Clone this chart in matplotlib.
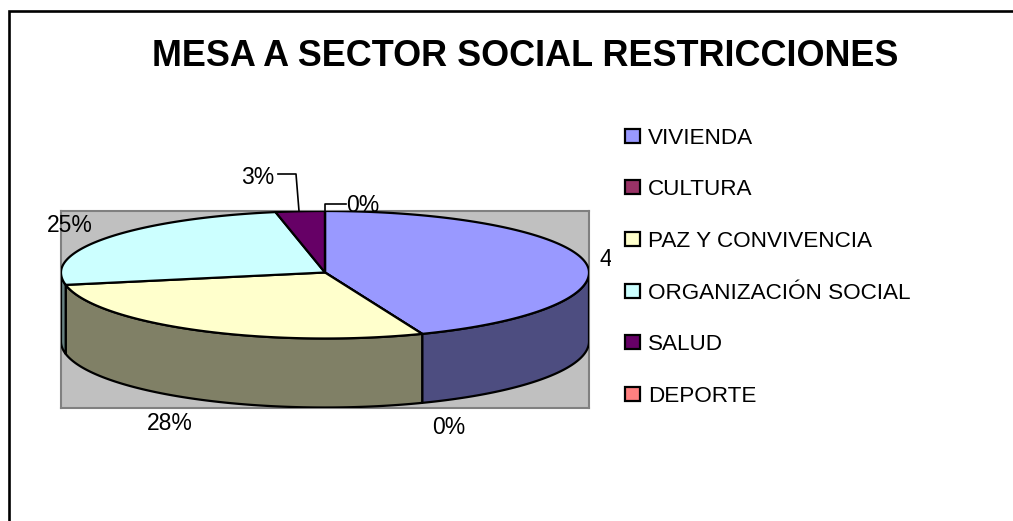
import numpy as np
import matplotlib
matplotlib.use("Agg")
import matplotlib.pyplot as plt
from matplotlib.patches import Rectangle

categories = ["VIVIENDA", "CULTURA", "PAZ Y CONVIVENCIA", "ORGANIZACIÓN SOCIAL", "SALUD", "DEPORTE"]
values = [44, 0, 28, 25, 3, 0]
top_colors = ["#9999FF", "#993366", "#FFFFCC", "#CCFFFF", "#660066", "#FF8080"]
side_colors = ["#4D4D80", "#4D1A33", "#808066", "#668080", "#330033", "#804040"]
pct_labels = ["44%", "0%", "28%", "25%", "3%", "0%"]
label_px = [(622, 259), (449, 428), (170, 424), (70, 226), (258, 178), (363, 206)]

W, H = 1013, 521
plt.rcParams["font.family"] = ["Liberation Sans", "DejaVu Sans"]
fig = plt.figure(figsize=(W / 100, H / 100), dpi=100, facecolor="white")

def fx(x): return x / W
def fy(y): return 1 - y / H

# chart frame: only top and left edges are inside the crop
fig.add_artist(plt.Line2D([fx(9.3), fx(9.3), fx(1013)], [fy(521), fy(10.5), fy(10.5)],
                          transform=fig.transFigure, color="black", lw=1.9,
                          solid_joinstyle="miter"))

# pie plot area: pixel scale, centre at y=272.5; front half slightly deeper (perspective)
L, R, T, B = 61, 589, 211, 408
back, front, depth = 61.5, 66.0, 69.0
ax = fig.add_axes([fx(L), fy(B), (R - L) / W, (B - T) / H])
ax.set_xlim(-1, 1)
ax.set_ylim(-(B - 272.5), 272.5 - T)
ax.set_xticks([])
ax.set_yticks([])
ax.set_facecolor("#C0C0C0")
for s in ax.spines.values():
    s.set_color("#808080")
    s.set_linewidth(1.5)

def rim(a, b, n=120):
    t = np.radians(np.linspace(a, b, n))
    x, c = np.sin(t), np.cos(t)
    return x, np.where(c >= 0, back * c, front * c)

edges = np.cumsum([0] + values) / sum(values) * 360.0
handles = []
for i, v in enumerate(values):
    # top face
    x, y = rim(edges[i], edges[i + 1])
    poly = ax.fill(np.r_[0, x], np.r_[0, y], fc=top_colors[i], ec="black", lw=1.6, zorder=5,
                   joinstyle="round")[0]
    handles.append(poly)
    # front wall
    a, b = max(edges[i], 90.0), min(edges[i + 1], 270.0)
    if v > 0 and b > a:
        x, y = rim(a, b)
        ax.fill(np.r_[x, x[::-1]], np.r_[y, y[::-1] - depth], fc=side_colors[i],
                ec="black", lw=1.6, zorder=3, joinstyle="round")

# data labels
clip = Rectangle((0, 0), fx(611), 1, transform=fig.transFigure)
for (px, py), s in zip(label_px, pct_labels):
    t = fig.text(fx(px), fy(py), s, fontsize=16.5, ha="center", va="center", color="black",
                 zorder=10)
    if s == "44%":
        t.set_clip_path(clip)
        t.set_clip_on(True)

# leader lines
for xs, ys in [((278, 296, 299), (174, 174, 211)), ((346, 325, 325), (204, 204, 211))]:
    fig.add_artist(plt.Line2D([fx(a) for a in xs], [fy(b) for b in ys],
                              transform=fig.transFigure, color="black", lw=1.2, zorder=9))

# title
fig.text(fx(525), fy(56), "MESA A SECTOR SOCIAL RESTRICCIONES", fontsize=25.9, fontweight="bold",
         ha="center", va="center", color="black")

# legend
leg = fig.legend(handles, categories, loc="upper left", bbox_to_anchor=(fx(618), fy(121)),
                 bbox_transform=fig.transFigure, frameon=False, fontsize=16.2,
                 handlelength=0.66, handleheight=0.58, handletextpad=0.36,
                 labelspacing=1.36, borderpad=0.3, borderaxespad=0)
for h in leg.legend_handles:
    h.set_edgecolor("black")
    h.set_linewidth(1.6)

fig.savefig("out.png", dpi=100, facecolor="white")
